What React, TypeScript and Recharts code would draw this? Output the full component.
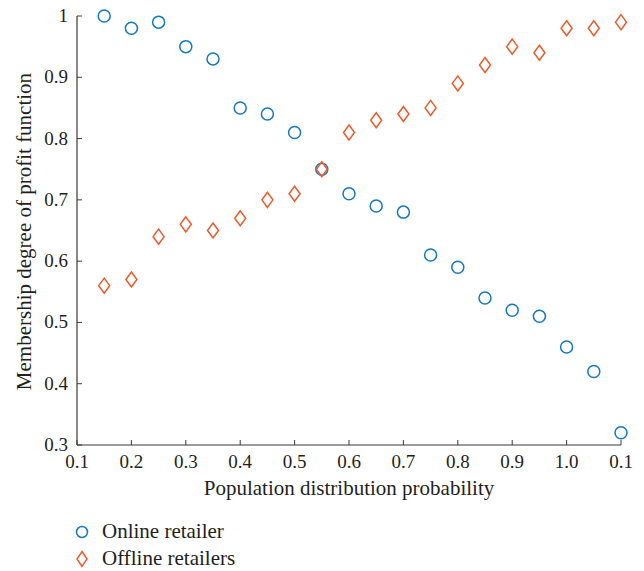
import { ScatterChart, Scatter, XAxis, YAxis } from 'recharts'

const xValues = [0.15, 0.2, 0.25, 0.3, 0.35, 0.4, 0.45, 0.5, 0.55, 0.6, 0.65, 0.7, 0.75, 0.8, 0.85, 0.9, 0.95, 1.0, 1.05, 1.1]
const onlineValues = [1.0, 0.98, 0.99, 0.95, 0.93, 0.85, 0.84, 0.81, 0.75, 0.71, 0.69, 0.68, 0.61, 0.59, 0.54, 0.52, 0.51, 0.46, 0.42, 0.32]
const offlineValues = [0.56, 0.57, 0.64, 0.66, 0.65, 0.67, 0.7, 0.71, 0.75, 0.81, 0.83, 0.84, 0.85, 0.89, 0.92, 0.95, 0.94, 0.98, 0.98, 0.99]
const xTicks = [0.1, 0.2, 0.3, 0.4, 0.5, 0.6, 0.7, 0.8, 0.9, 1.0, 1.1]
// the last tick is printed "0.1" in the original figure
const xTickLabels = ['0.1', '0.2', '0.3', '0.4', '0.5', '0.6', '0.7', '0.8', '0.9', '1.0', '0.1']
const yTicks = [0.3, 0.4, 0.5, 0.6, 0.7, 0.8, 0.9, 1.0]
const yTickLabels = ['0.3', '0.4', '0.5', '0.6', '0.7', '0.8', '0.9', '1']

const onlineData = xValues.map((x, i) => ({ x, y: onlineValues[i] }))
const offlineData = xValues.map((x, i) => ({ x, y: offlineValues[i] }))

const BLUE = '#1478C0'
const ORANGE = '#EE5A2A'
const AXIS = '#3a3a3a'
const TEXT = '#231f20'
const FONT = '"Liberation Serif", "Times New Roman", serif'

function BottomTick(props: any) {
  const { x, y, index } = props
  return (
    <g>
      <line x1={x} x2={x} y1={y} y2={y - 5} stroke={AXIS} strokeWidth={1} />
      <text x={x} y={y + 23} textAnchor="middle" fill={TEXT} fontSize={19} fontFamily={FONT}>
        {xTickLabels[index]}
      </text>
    </g>
  )
}

function LeftTick(props: any) {
  const { x, y, index } = props
  return (
    <g>
      <line x1={x} x2={x + 5} y1={y} y2={y} stroke={AXIS} strokeWidth={1} />
      <text x={x - 9} y={y + 6} textAnchor="end" fill={TEXT} fontSize={19} fontFamily={FONT}>
        {yTickLabels[index]}
      </text>
    </g>
  )
}

function TopTick(props: any) {
  const { x, y } = props
  return <line x1={x} x2={x} y1={y} y2={y + 5} stroke={AXIS} strokeWidth={1} />
}

function RightTick(props: any) {
  const { x, y } = props
  return <line x1={x} x2={x - 5} y1={y} y2={y} stroke={AXIS} strokeWidth={1} />
}

function Circle(props: any) {
  return <circle cx={props.cx} cy={props.cy} r={6} fill="none" stroke={BLUE} strokeWidth={1.5} />
}

function Diamond(props: any) {
  const { cx, cy } = props
  return (
    <polygon
      points={`${cx},${cy - 7.5} ${cx + 5.5},${cy} ${cx},${cy + 7.5} ${cx - 5.5},${cy}`}
      fill="none"
      stroke={ORANGE}
      strokeWidth={1.5}
    />
  )
}

export default function App() {
  return (
    <div style={{ position: 'absolute', left: 0, top: 0, width: 644, height: 571, background: '#fff' }}>
      <ScatterChart width={644} height={571} margin={{ top: 16, right: 23, bottom: 96, left: 17 }}>
        <XAxis
          xAxisId="b"
          dataKey="x"
          type="number"
          domain={[0.1, 1.1]}
          ticks={xTicks}
          interval={0}
          height={30}
          tickSize={0}
          tickMargin={0}
          tickLine={false}
          axisLine={{ stroke: AXIS, strokeWidth: 1.2 }}
          tick={<BottomTick />}
          label={{
            content: (p: any) => (
              <text
                x={p.viewBox.x + p.viewBox.width / 2}
                y={p.viewBox.y + 50}
                textAnchor="middle"
                fill={TEXT}
                fontSize={21}
                fontFamily={FONT}
              >
                Population distribution probability
              </text>
            ),
          }}
        />
        <XAxis
          xAxisId="t"
          orientation="top"
          type="number"
          domain={[0.1, 1.1]}
          ticks={xTicks}
          interval={0}
          height={0}
          tickSize={0}
          tickMargin={0}
          tickLine={false}
          axisLine={{ stroke: AXIS, strokeWidth: 1.2 }}
          tick={<TopTick />}
        />
        <YAxis
          yAxisId="l"
          dataKey="y"
          type="number"
          domain={[0.3, 1]}
          ticks={yTicks}
          interval={0}
          width={60}
          tickSize={0}
          tickMargin={0}
          tickLine={false}
          axisLine={{ stroke: AXIS, strokeWidth: 1.2 }}
          tick={<LeftTick />}
          label={{
            content: (p: any) => {
              const cx = 31
              const cy = p.viewBox.y + p.viewBox.height / 2 + 1
              return (
                <text
                  x={cx}
                  y={cy}
                  transform={`rotate(-90 ${cx} ${cy})`}
                  textAnchor="middle"
                  fill={TEXT}
                  fontSize={21}
                  fontFamily={FONT}
                >
                  Membership degree of profit function
                </text>
              )
            },
          }}
        />
        <YAxis
          yAxisId="r"
          orientation="right"
          type="number"
          domain={[0.3, 1]}
          ticks={yTicks}
          interval={0}
          width={0}
          tickSize={0}
          tickMargin={0}
          tickLine={false}
          axisLine={{ stroke: AXIS, strokeWidth: 1.2 }}
          tick={<RightTick />}
        />
        <Scatter
          name="Online retailer"
          data={onlineData}
          xAxisId="b"
          yAxisId="l"
          shape={<Circle />}
          isAnimationActive={false}
        />
        <Scatter
          name="Offline retailers"
          data={offlineData}
          xAxisId="b"
          yAxisId="l"
          shape={<Diamond />}
          isAnimationActive={false}
        />
      </ScatterChart>
      <div style={{ position: 'absolute', left: 74, top: 518, fontFamily: FONT, fontSize: 21, color: TEXT, lineHeight: '27px' }}>
        <div style={{ display: 'flex', alignItems: 'center' }}>
          <svg width={16} height={16} style={{ marginRight: 12 }}>
            <circle cx={8} cy={8} r={5.5} fill="none" stroke={BLUE} strokeWidth={1.5} />
          </svg>
          <span>Online retailer</span>
        </div>
        <div style={{ display: 'flex', alignItems: 'center' }}>
          <svg width={16} height={18} style={{ marginRight: 12 }}>
            <polygon points="8,1.5 13,9 8,16.5 3,9" fill="none" stroke={ORANGE} strokeWidth={1.5} />
          </svg>
          <span>Offline retailers</span>
        </div>
      </div>
    </div>
  )
}
